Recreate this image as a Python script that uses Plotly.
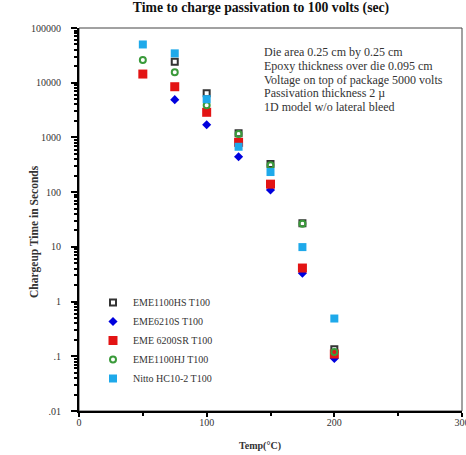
import plotly.graph_objects as go

temps = [50, 75, 100, 125, 150, 175, 200]

eme1100hs = [None, 24200, 6400, 1190, 326, 27, 0.135]
eme6210s = [None, 4900, 1710, 444, 110, 3.3, 0.091]
eme6200sr = [14400, 8450, 2880, 813, 140, 4.1, 0.11]
eme1100hj = [26000, 15500, 3860, 1150, 310, 26.5, 0.12]
nitto = [50000, 34400, 5000, 675, 233, 9.9, 0.49]

series_names = ["EME1100HS T100", "EME6210S T100", "EME 6200SR T100",
                "EME1100HJ T100", "Nitto HC10-2 T100"]

y_tickvals = [0.01, 0.1, 1, 10, 100, 1000, 10000, 100000]
y_ticktext = [".01", ".1", "1", "10", "100", "1000", "10000", "100000"]
x_tickvals = [0, 100, 200, 300]
x_minor = [50, 150, 250]

notes = ["Die area 0.25 cm by 0.25 cm",
         "Epoxy thickness over die 0.095 cm",
         "Voltage on top of package 5000 volts",
         "Passivation thickness 2 \u00b5",
         "1D model w/o lateral bleed"]

FONT = "Liberation Serif, Times New Roman, serif"

styles = [
    dict(symbol="square-open", size=6, color="#333333", line=dict(width=2, color="#333333")),
    dict(symbol="diamond", size=7, color="#0000dd", line=dict(width=0)),
    dict(symbol="square", size=9, color="#e31414", line=dict(width=0)),
    dict(symbol="circle-open", size=6, color="#3a9a3a", line=dict(width=2, color="#3a9a3a")),
    dict(symbol="square", size=8, color="#1ea9ea", line=dict(width=0)),
]

fig = go.Figure()
for name, vals, st in zip(series_names, [eme1100hs, eme6210s, eme6200sr, eme1100hj, nitto], styles):
    xs = [t for t, v in zip(temps, vals) if v is not None]
    ys = [v for v in vals if v is not None]
    fig.add_trace(go.Scatter(x=xs, y=ys, mode="markers", name=name, marker=st))

minor_y = []
for k in range(-2, 5):
    for m in range(2, 10):
        minor_y.append(m * 10 ** k)

fig.update_xaxes(range=[0, 300], tickvals=x_tickvals, ticks="outside", ticklen=4,
                 tickwidth=1.5, tickcolor="black", showline=True, linecolor="black",
                 linewidth=2, showgrid=False, zeroline=False,
                 tickfont=dict(family=FONT, size=10, color="#333"),
                 ticklabeloverflow="allow", ticklabelstandoff=-3,
                 minor=dict(tickvals=x_minor, ticks="outside", ticklen=3,
                            tickcolor="black", showgrid=False))
fig.update_yaxes(type="log", range=[-2, 5], tickvals=y_tickvals, ticktext=y_ticktext,
                 ticks="outside", ticklen=6, tickwidth=1.5, tickcolor="black",
                 showline=True, linecolor="black", linewidth=2, showgrid=False,
                 zeroline=False, tickfont=dict(family=FONT, size=10, color="#333"),
                 ticklabelstandoff=8,
                 minor=dict(tickvals=minor_y, ticks="outside", ticklen=3,
                            tickcolor="black", showgrid=False))

L, R, T, B = 79, 4, 28, 44
W, H = 466, 455
ph = H - T - B

def py(pix):
    return (H - B - pix) / ph

def px(pix):
    return (pix - L) / (W - L - R)

annotations = []
for i, line in enumerate(notes):
    annotations.append(dict(text=line, xref="paper", yref="paper", x=px(262),
                            y=py(52 + i * 13.8), xanchor="left", yanchor="middle",
                            showarrow=False, font=dict(family=FONT, size=12, color="#333")))
annotations.append(dict(text="<b>Chargeup Time in Seconds</b>", xref="paper", yref="paper",
                        x=px(34), y=py(232), textangle=-90, showarrow=False,
                        xanchor="center", yanchor="middle",
                        font=dict(family=FONT, size=11.5, color="#333")))
annotations.append(dict(text="<b>Temp(\u00b0C)</b>", xref="paper", yref="paper",
                        x=px(260), y=py(446), showarrow=False,
                        xanchor="center", yanchor="middle",
                        font=dict(family=FONT, size=10, color="#333")))

fig.update_layout(
    width=W, height=H,
    margin=dict(l=L, r=R, t=T, b=B, autoexpand=False),
    paper_bgcolor="white", plot_bgcolor="white",
    title=dict(text="<b>Time to charge passivation to 100 volts (sec)</b>",
               x=261 / W, xanchor="center", y=1 - 7 / H, yanchor="middle",
               font=dict(family=FONT, size=13.7, color="#111")),
    showlegend=True,
    legend=dict(x=px(93), y=py(288), xanchor="left", yanchor="top",
                bgcolor="rgba(0,0,0,0)", font=dict(family=FONT, size=10, color="#333"),
                tracegroupgap=0, itemsizing="trace"),
    annotations=annotations,
    shapes=[dict(type="rect", xref="paper", yref="paper", x0=0, x1=1, y0=0, y1=1,
                 line=dict(color="#444", width=1), layer="below")],
)

fig.write_html("out.html", config={"displayModeBar": False},
               post_script="document.body.style.margin='0';document.body.style.overflow='hidden';")
